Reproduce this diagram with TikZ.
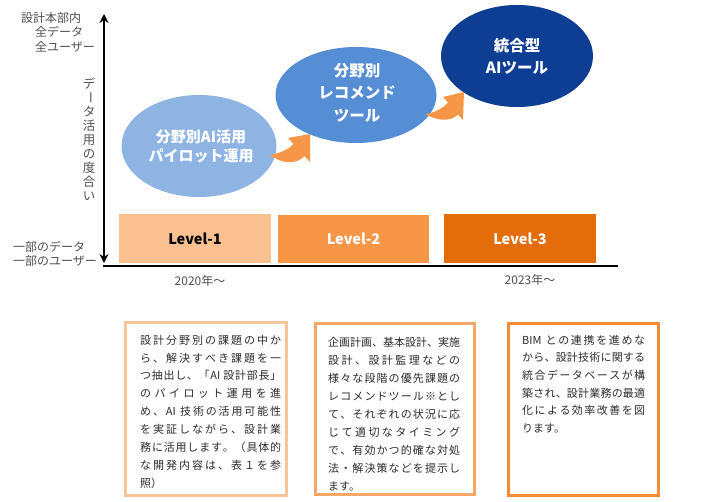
\documentclass[tikz,border=0pt]{standalone}
\usepackage{fontspec}
\setmainfont{Noto Sans CJK JP}
\usetikzlibrary{shapes.geometric,arrows.meta}
\definecolor{ellA}{HTML}{8EB4E3}
\definecolor{ellB}{HTML}{558ED5}
\definecolor{ellC}{HTML}{0E3D94}
\definecolor{lvA}{HTML}{FAC090}
\definecolor{lvB}{HTML}{F79646}
\definecolor{lvC}{HTML}{E46C0A}
\definecolor{bdA}{HTML}{F9C49A}
\definecolor{bdB}{HTML}{F8A866}
\definecolor{bdC}{HTML}{F68B33}
\definecolor{arr}{HTML}{F79646}
\definecolor{lblgray}{HTML}{505050}
\definecolor{txtgray}{HTML}{2B2B2B}
\newlength\jlw
\def\jsp#1#2\jend{#1\ifx\relax#2\relax\else\hfil\jsp#2\jend\fi}
\newcommand\jl[1]{\hbox to\jlw{\jsp#1\jend}}
\tikzset{
  ell/.style={ellipse, inner sep=0pt, draw=none},
  elltext/.style={text=white, align=center, inner sep=0pt, font=\fontsize{15.5}{22.5}\selectfont\bfseries},
  level/.style={rectangle, inner sep=0pt, minimum width=152, minimum height=49, font=\fontsize{14.5}{16}\selectfont\bfseries},
  sidelbl/.style={anchor=west, inner sep=0pt, text=lblgray, font=\fontsize{12}{14}\selectfont},
  vchar/.style={inner sep=0pt, text=lblgray, font=\fontsize{12.5}{14}\selectfont},
  yearlbl/.style={inner sep=0pt, text=lblgray, font=\fontsize{12}{14}\selectfont},
  descbox/.style={line width=3pt},
  btext/.style={anchor=west, inner sep=0pt, text=txtgray, font=\fontsize{11}{13}\selectfont},
  axisline/.style={line width=2pt, {Stealth[length=9pt,width=9pt]}-{Stealth[length=9pt,width=9pt]}},
}
\begin{document}
\begin{tikzpicture}[x=1pt,y=-1pt]
\useasboundingbox[fill=white] (0,0) rectangle (718,501);

% axes
\coordinate (vtop) at (104,14);
\coordinate (vbot) at (104,263);
\draw[axisline] (vtop) -- (vbot);
\coordinate (hl) at (103,266);
\coordinate (hr) at (618,266);
\draw[line width=2.5pt] (hl) -- (hr);

% left labels
\node[sidelbl] (t1) at (21,18) {設計本部内};
\node[sidelbl] (t2) at (35,32) {全データ};
\node[sidelbl] (t3) at (35,47) {全ユーザー};
\node[sidelbl] (t4) at (13,247) {一部のデータ};
\node[sidelbl] (t5) at (13,261) {一部のユーザー};

% vertical label
\node[vchar] (v1) at (89,84) {デ};
\node[vchar] (v2) at (89,98) {\rotatebox{-90}{ー}};
\node[vchar] (v3) at (89,112) {タ};
\node[vchar] (v4) at (89,126) {活};
\node[vchar] (v5) at (89,140) {用};
\node[vchar] (v6) at (89,154) {の};
\node[vchar] (v7) at (89,168) {度};
\node[vchar] (v8) at (89,182) {合};
\node[vchar] (v9) at (89,196) {い};

% ellipses
\node[ell, fill=ellA, minimum width=155, minimum height=102] (e1) at (199,146) {};
\node[ell, fill=ellB, minimum width=161, minimum height=96] (e2) at (356,95) {};
\node[ell, fill=ellC, minimum width=152, minimum height=102] (e3) at (517,56) {};
\node[elltext, font=\fontsize{15}{19}\selectfont\bfseries] (e1t) at (201,146.5) {分野別AI活用\\パイロット運用};
\node[elltext] (e2t) at (357,92.5) {分野別\\レコメンド\\ツール};
\node[elltext, font=\fontsize{15.5}{22}\selectfont\bfseries] (e3t) at (517,56) {統合型\\AIツール};

% curved arrows
\fill[arr] (270,155) .. controls (280,153) and (288,150) .. (293.5,144)
  -- (288,138) -- (310,134) -- (310,162) -- (304.5,156)
  .. controls (296,165) and (282,164) .. cycle;
\fill[arr] (425,114) .. controls (434,113) and (442,109) .. (448,102.5)
  -- (443,97) -- (464,92) -- (463,120) -- (458,114.5)
  .. controls (451,122) and (437,121) .. cycle;

% levels
\node[level, fill=lvA, text=black] (l1) at (195,238.5) {Level-1};
\node[level, fill=lvB, text=white, minimum width=151, minimum height=48] (l2) at (353.5,239) {Level-2};
\node[level, fill=lvC, text=white] (l3) at (520,238.5) {Level-3};

% years
\node[yearlbl] (y1) at (200,281) {2020年～};
\node[yearlbl] (y2) at (530,280) {2023年～};

% description boxes
\draw[descbox, draw=bdA] (125,322) rectangle (286,495);
\draw[descbox, draw=bdB] (315,323) rectangle (474,494);
\draw[descbox, draw=bdC] (508,323) rectangle (658,495);

\setlength\jlw{141pt}
\node[btext] (a1) at (140,340.0) {\jl{設計分野別の課題の中か}};
\node[btext] (a2) at (140,357.9) {\jl{ら、解決すべき課題を一}};
\node[btext] (a3) at (140,375.8) {\jl{つ抽出し、「{AI\ }設計部長」}};
\node[btext] (a4) at (140,393.7) {\jl{のパイロット運用を進}};
\node[btext] (a5) at (140,411.6) {\jl{め、{AI\ }技術の活用可能性}};
\node[btext] (a6) at (140,429.5) {\jl{を実証しながら、設計業}};
\node[btext] (a7) at (140,447.4) {\jl{務に活用します。（具体的}};
\node[btext] (a8) at (140,465.3) {\jl{な開発内容は、表１を参}};
\node[btext] (a9) at (140,483.2) {照）};

\setlength\jlw{132pt}
\node[btext] (b1) at (328,342.7) {\jl{企画計画、基本設計、実施}};
\node[btext] (b2) at (328,360.7) {\jl{設計、設計監理などの}};
\node[btext] (b3) at (328,378.7) {\jl{様々な段階の優先課題の}};
\node[btext] (b4) at (328,396.7) {\jl{レコメンドツール※とし}};
\node[btext] (b5) at (328,414.7) {\jl{て、それぞれの状況に応}};
\node[btext] (b6) at (328,432.7) {\jl{じて適切なタイミング}};
\node[btext] (b7) at (328,450.7) {\jl{で、有効かつ的確な対処}};
\node[btext] (b8) at (328,468.7) {\jl{法・解決策などを提示し}};
\node[btext] (b9) at (328,486.7) {ます。};

\setlength\jlw{123pt}
\node[btext] (c1) at (522,340.0) {\jl{{BIM\ }との連携を進めな}};
\node[btext] (c2) at (522,357.7) {\jl{から、設計技術に関する}};
\node[btext] (c3) at (522,375.4) {\jl{統合データベースが構}};
\node[btext] (c4) at (522,393.1) {\jl{築され、設計業務の最適}};
\node[btext] (c5) at (522,410.8) {\jl{化による効率改善を図}};
\node[btext] (c6) at (522,428.5) {ります。};
\end{tikzpicture}
\end{document}
